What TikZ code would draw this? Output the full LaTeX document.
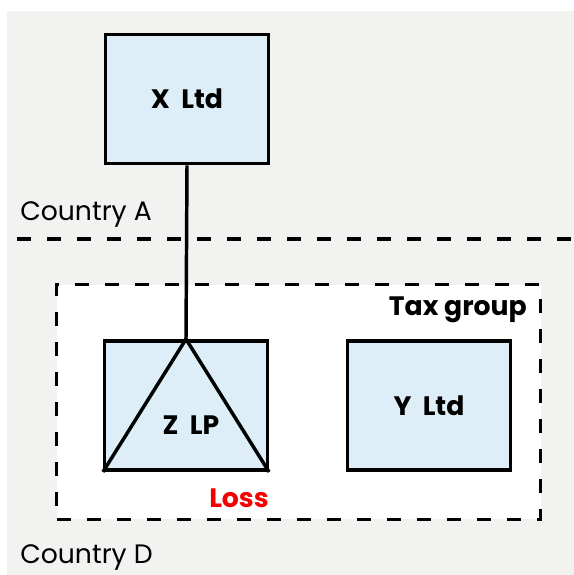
\documentclass[tikz,border=0pt]{standalone}
\usepackage{fontspec}
\setmainfont{Poppins}
\definecolor{bggray}{HTML}{F2F2F1}
\definecolor{boxblue}{HTML}{DDEEF9}
\definecolor{lossred}{HTML}{F50000}
\tikzset{
  entity/.style={draw=black, fill=boxblue, line width=2.6pt, minimum width=122pt, minimum height=97pt, font=\fontsize{20}{23}\selectfont\bfseries},
  border/.style={draw=black, dash pattern=on 10.5pt off 12pt, line width=2.5pt},
  country/.style={anchor=base west, inner sep=0pt, font=\fontsize{20}{23}\selectfont}
}
\begin{document}
\begin{tikzpicture}[x=0.75pt, y=-0.75pt]
% Background
\useasboundingbox (0,0) rectangle (574,575);
\fill[bggray] (7,11) rectangle (574,575);
% Tax group
\node[border, fill=white, minimum width=363pt, minimum height=176pt] (taxgroup) at (298.5,402) {};
\node[anchor=base east, inner sep=0pt, font=\fontsize{20}{23}\selectfont\bfseries] (taxlabel) at (527,315) {Tax group};
% Border between countries
\coordinate (bordera) at (17,239);
\coordinate (borderb) at (574,239);
\draw[border] (bordera) -- (borderb);
\node[country] (countrya) at (20,220) {Country A};
\node[country] (countryd) at (20,563) {Country D};
% Entities
\node[entity] (xltd) at (187,99) {X~~Ltd};
\node[entity] (zlp) at (186,405.5) {};
\node[entity] (yltd) at (429,405.5) {Y~~Ltd};
% Lines
\draw[line width=2.6pt] (xltd.south) -- (zlp.north);
\draw[line width=2.6pt, line join=round] (zlp.south west) -- (zlp.north) -- (zlp.south east);
\node[inner sep=0pt, font=\fontsize{20}{23}\selectfont\bfseries] (zlabel) at (191,425) {Z~~LP};
\node[anchor=base west, inner sep=0pt, text=lossred, font=\fontsize{20}{23}\selectfont\bfseries] (loss) at (209,507) {Loss};
\end{tikzpicture}
\end{document}
